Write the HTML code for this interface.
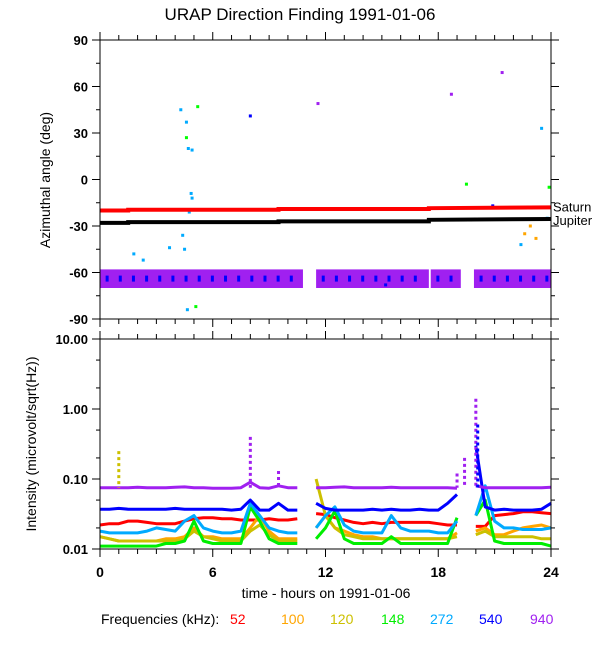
<!DOCTYPE html>
<html><head><meta charset="utf-8"><style>
body{margin:0;background:#fff;}
svg{display:block;font-family:"Liberation Sans",sans-serif;}
</style></head><body>
<svg id="c" width="600" height="650" xmlns="http://www.w3.org/2000/svg"></svg>
<script>
// ---- data ----
const hours = [0,0.5,1,1.5,2,2.5,3,3.5,4,4.5,5,5.5,6,6.5,7,7.5,8,8.5,9,9.5,10,10.5,11,11.5,12,12.5,13,13.5,14,14.5,15,15.5,16,16.5,17,17.5,18,18.5,19,19.5,20,20.5,21,21.5,22,22.5,23,23.5,24];
const saturnT = [0,1.5,1.5,9.5,9.5,17.5,17.5,24];
const saturnV = [-20,-20,-19.5,-19.5,-19,-19,-18.5,-18];
const jupiterT = [0,1.5,1.5,9.5,9.5,17.5,17.5,24];
const jupiterV = [-28,-28,-27.5,-27.5,-27,-27,-26,-25.5];
const bandSegments = [[0,10.8],[11.5,17.5],[17.6,19.2],[19.9,24]];
const bandCenter = -64;
const bandHalf = 6;
const outT = [4.3,4.6,4.7,4.9,4.85,4.6,4.4,5.2,4.9,4.75,4.5,4.65,5.1,3.7,8,11.6,20.9,21.4,23.5,23.8,22.6,22.9,23.2,22.4,23.9,19.5,18.7,1.8,2.3,15.2];
const outV = [45,37,20,19,-9,27,-36,47,-12,-21,-45,-84,-82,-44,41,49,-17,69,33,-25,-35,-30,-38,-42,-5,-3,55,-48,-52,-68];
const outC = ["#00aaff","#00aaff","#00aaff","#00aaff","#00aaff","#00ff00","#00aaff","#00ff00","#00aaff","#00aaff","#00aaff","#00aaff","#00ff00","#00aaff","#0000ff","#a020f0","#0000ff","#a020f0","#00aaff","#00aaff","#ffa500","#ffa500","#ffa500","#00aaff","#00ff00","#00ff00","#a020f0","#00aaff","#00aaff","#0000ff"];
const f940 = [0.075,0.075,0.075,0.075,0.076,0.075,0.075,0.075,0.076,0.077,0.075,0.075,0.074,0.074,0.074,0.075,0.09,0.075,0.074,0.08,0.075,0.075,null,0.075,0.075,0.076,0.077,0.075,0.075,0.075,0.075,0.076,0.075,0.075,0.075,0.075,0.075,0.075,0.074,null,0.08,0.075,0.075,0.075,0.075,0.075,0.075,0.075,0.076];
const f540 = [0.037,0.037,0.038,0.037,0.037,0.037,0.037,0.037,0.038,0.037,0.037,0.037,0.037,0.037,0.036,0.037,0.05,0.036,0.036,0.045,0.036,0.036,null,0.045,0.038,0.036,0.036,0.036,0.036,0.037,0.036,0.037,0.036,0.036,0.037,0.036,0.036,0.045,0.06,null,0.3,0.04,0.036,0.037,0.036,0.036,0.036,0.037,0.045];
const f52 = [0.022,0.023,0.023,0.025,0.025,0.024,0.023,0.023,0.023,0.025,0.027,0.028,0.028,0.027,0.027,0.026,0.026,0.026,0.027,0.026,0.026,0.027,null,0.032,0.031,0.028,0.026,0.024,0.023,0.024,0.023,0.024,0.024,0.024,0.024,0.024,0.023,0.022,0.022,null,0.021,0.021,0.03,0.031,0.032,0.034,0.034,0.033,0.032];
const f272 = [0.018,0.017,0.017,0.017,0.017,0.018,0.02,0.019,0.018,0.025,0.03,0.02,0.018,0.017,0.017,0.018,0.045,0.03,0.02,0.018,0.017,0.017,null,0.02,0.03,0.04,0.022,0.018,0.017,0.017,0.017,0.03,0.02,0.018,0.018,0.018,0.017,0.017,0.025,null,0.03,0.08,0.025,0.02,0.02,0.019,0.019,0.019,0.02];
const f100 = [0.015,0.014,0.013,0.013,0.013,0.013,0.013,0.014,0.014,0.015,0.02,0.015,0.015,0.014,0.014,0.014,0.02,0.03,0.018,0.014,0.014,0.014,null,0.02,0.03,0.02,0.018,0.016,0.015,0.015,0.014,0.014,0.014,0.014,0.014,0.014,0.014,0.014,0.017,null,0.018,0.02,0.016,0.016,0.018,0.02,0.021,0.022,0.02];
const f120 = [0.015,0.014,0.013,0.013,0.013,0.013,0.013,0.013,0.013,0.014,0.018,0.015,0.014,0.013,0.013,0.013,0.018,0.022,0.016,0.013,0.013,0.013,null,0.1,0.03,0.02,0.016,0.015,0.014,0.014,0.014,0.014,0.014,0.014,0.014,0.014,0.014,0.014,0.015,null,0.016,0.018,0.015,0.015,0.015,0.015,0.015,0.014,0.014];
const f148 = [0.011,0.011,0.011,0.011,0.011,0.011,0.011,0.012,0.012,0.013,0.025,0.013,0.012,0.012,0.012,0.012,0.04,0.025,0.014,0.012,0.012,0.012,null,0.014,0.02,0.035,0.014,0.012,0.012,0.012,0.012,0.015,0.012,0.012,0.012,0.012,0.012,0.012,0.028,null,0.03,0.05,0.013,0.012,0.012,0.012,0.012,0.012,0.011];
const spikeT = [8.0,9.5,19.0,19.4,20.0,20.1,1.0];
const spikeV = [0.4,0.13,0.12,0.2,1.4,0.6,0.25];
const spikeC = ["#a020f0","#a020f0","#a020f0","#a020f0","#a020f0","#0000ff","#ccc000"];
const xTicks = [0,6,12,18,24];
const angTicks = [90,60,30,0,-30,-60,-90];
const logTicks = [10,1,0.1,0.01];
const logLabels = ["10.00","1.00","0.10","0.01"];

// ---- scales ----
const X0=100,X1=551;
const xs = h => X0 + h/24*(X1-X0);
const TY0=40,TY1=319;
const ya = v => TY0 + (90-v)/180*(TY1-TY0);
const BY0=339,BY1=549;
const yl = v => BY1 - (Math.log10(v)+2)*70;

const svg=document.getElementById('c');
const NS='http://www.w3.org/2000/svg';
function mk(tag,attrs,parent){const e=document.createElementNS(NS,tag);for(const k in attrs)e.setAttribute(k,attrs[k]);(parent||svg).appendChild(e);return e;}
function txt(s,x,y,attrs,parent){const e=mk('text',Object.assign({x:x,y:y,'font-size':14,'font-weight':'bold',fill:'#000'},attrs),parent);e.textContent=s;return e;}

// title
let tt=txt('URAP Direction Finding  1991-01-06',300,20,{'text-anchor':'middle','font-size':17,'font-weight':'normal'});



// ---- top panel ----
const topG=mk('g',{});


bandSegments.forEach(s=>{
  const r=mk('rect',{x:xs(s[0]),y:ya(bandCenter+bandHalf),width:xs(s[1])-xs(s[0]),height:ya(bandCenter-bandHalf)-ya(bandCenter+bandHalf),fill:'#a020f0'},topG);
  
  
  for(let h=s[0]+0.3;h<s[1]-0.2;h+=0.7){
    const b=mk('rect',{x:xs(h),y:ya(bandCenter+2),width:3,height:6,fill:'#0000ff'},topG);
    
    
  }
});
outT.forEach((h,i)=>{
  const p=mk('rect',{x:xs(h)-1.5,y:ya(outV[i])-1.5,width:3,height:3,fill:outC[i]},topG);
  
  
});
function stepLine(T,V,col,name){
  let d='';T.forEach((h,i)=>{d+=(i?'L':'M')+xs(h)+' '+ya(V[i]);});
  const p=mk('path',{d:d,stroke:col,'stroke-width':4,fill:'none'},topG);
  
  
}
stepLine(saturnT,saturnV,'#ff0000','saturn-line');
stepLine(jupiterT,jupiterV,'#000000','jupiter-line');
tt=txt('Saturn',553,ya(-18)+4,{'font-size':13,'font-weight':'normal'});


tt=txt('Jupiter',553,ya(-26)+5,{'font-size':13,'font-weight':'normal'});


mk('rect',{x:X0,y:TY0,width:X1-X0,height:TY1-TY0,fill:'none',stroke:'#000','stroke-width':1});
for(let v=-90;v<=90;v+=15){
  const major=v%30===0, L=major?8:4;
  mk('line',{x1:X0,x2:X0-L,y1:ya(v),y2:ya(v),stroke:'#000'});
  mk('line',{x1:X1,x2:X1+L,y1:ya(v),y2:ya(v),stroke:'#000'});
}
angTicks.forEach(v=>{
  const e=txt(String(v),X0-12,ya(v)+5,{'text-anchor':'end','font-size':13});
  
  
});
tt=txt('Azimuthal angle (deg)',0,0,{'text-anchor':'middle','font-size':14,'font-weight':'normal',transform:'translate(50,180) rotate(-90)'});



// ---- bottom panel ----
const botG=mk('g',{});


const series=[[f52,'#ff0000','series-52'],[f100,'#ffa500','series-100'],[f120,'#ccc000','series-120'],[f148,'#00ee00','series-148'],[f272,'#00aaff','series-272'],[f540,'#0000ff','series-540'],[f940,'#a020f0','series-940']];
series.forEach(s=>{
  let d='',pen=false;
  hours.forEach((h,i)=>{const v=s[0][i];if(v==null){pen=false;return;}d+=(pen?'L':'M')+xs(h).toFixed(1)+' '+yl(v).toFixed(1);pen=true;});
  const p=mk('path',{d:d,stroke:s[1],'stroke-width':3,fill:'none','stroke-linejoin':'round'},botG);
  
  
});
spikeT.forEach((h,i)=>{
  const p=mk('line',{x1:xs(h),x2:xs(h),y1:yl(spikeV[i]),y2:yl(0.075),stroke:spikeC[i],'stroke-width':3,'stroke-dasharray':'3 3'},botG);
  
  
});
mk('rect',{x:X0,y:BY0,width:X1-X0,height:BY1-BY0,fill:'none',stroke:'#000','stroke-width':1});
logTicks.forEach((v,i)=>{
  mk('line',{x1:X0,x2:X0-8,y1:yl(v),y2:yl(v),stroke:'#000'});
  mk('line',{x1:X1,x2:X1+8,y1:yl(v),y2:yl(v),stroke:'#000'});
  const e=txt(logLabels[i],X0-12,yl(v)+5,{'text-anchor':'end','font-size':13});
  
  
  if(v>0.01){[5,2].forEach(m=>{const yy=yl(v/10*m);mk('line',{x1:X0,x2:X0-4,y1:yy,y2:yy,stroke:'#000'});mk('line',{x1:X1,x2:X1+4,y1:yy,y2:yy,stroke:'#000'});});}
});
tt=txt('Intensity (microvolt/sqrt(Hz))',0,0,{'text-anchor':'middle','font-size':14,'font-weight':'normal',transform:'translate(36,444) rotate(-90)'});



// x ticks
for(let h=0;h<=24;h++){
  const L=h%6===0?8:5;
  [[TY0,-1],[TY1,1],[BY0,-1],[BY1,1]].forEach(a=>mk('line',{x1:xs(h),x2:xs(h),y1:a[0],y2:a[0]+a[1]*L,stroke:'#000'}));
}
xTicks.forEach(h=>{
  const e=txt(String(h),xs(h),577,{'text-anchor':'middle','font-size':14});
  
  
});
tt=txt('time - hours on 1991-01-06',326,598,{'text-anchor':'middle','font-size':14,'font-weight':'normal'});



// legend
tt=txt('Frequencies (kHz):',101,624,{'font-size':14,'font-weight':'normal'});


const legX=[230,281,330,381,430,479,530];
const legL=['52','100','120','148','272','540','940'];
series.forEach((s,i)=>{
  const e=txt(legL[i],legX[i],624,{'font-size':14,'font-weight':'normal',fill:s[1]});
  
  
});
</script>
</body></html>
